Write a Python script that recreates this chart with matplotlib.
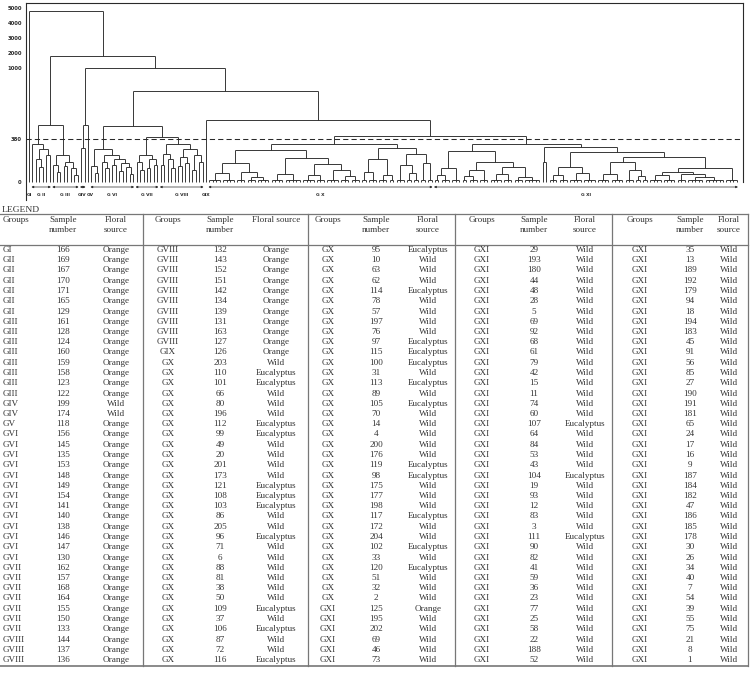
import numpy as np
import matplotlib
matplotlib.use("Agg")
import matplotlib.pyplot as plt
from matplotlib.collections import LineCollection

# ---- dendrogram data ----
GROUP_NAMES = ["GI", "GII", "GIII", "GIV", "GV", "GVI", "GVII", "GVIII", "GIX", "GX", "GXI"]
GROUP_SIZES = [1, 6, 8, 2, 1, 13, 7, 13, 1, 65, 88]
GROUP_TAGS = ["GI", "G II", "G III", "GIV", "GV", "G VI", "G VII", "G VIII", "GIX", "G X", "G XI"]
TICK_VALUES = [0, 380, 1000, 2000, 3000, 4000, 5000]
CUT_LEVEL = 380

# node = [height, child, child, ...]; an int is a run of samples joined at the bottom
G_I = 1
G_II = [340, 1, [290, [200, 1, [130, 1, 1]], [240, 1, 1]]]
G_III = [237, [150, 1, [90, 1, 1]], [177, [140, 1, 1], [120, 1, [60, 1, 1]]]]
G_IV_V = [500, [300, 1, 1], 1]
G_VI = [295, [141, 1, [80, 1, 1]],
        [240, [180, 1, [120, 1, 1]], [200, [150, 1, 1], [170, [100, 1, 1], [130, 1, [70, 1, 1]]]]]]
G_VII = [240, [180, 1, [110, 1, 1]], [200, [120, 1, 1], [150, 1, 1]]]
G_VIII = [338, [250, [150, 1, 1], [200, 1, [120, 1, 1]]],
          [290, [220, [140, 1, 1], [170, 1, 1]], [240, [110, 1, 1], [180, 1, 1]]]]
G_IX = 1
G_X = [336,
       [283,
        [168, [80, 4, 4], [90, 3, [40, 3, 4]]],
        [212, [75, 4, 5], [163, [60, 4, 3], [110, 4, [50, 3, 3]]]]],
       [300,
        [200, [90, 2, 3], [60, 3, 2]],
        [250, [150, 3, [80, 2, 2]], [170, 2, 2]]]]
G_XI = [336,
        [275, [124, [60, 2, 3], 3], [177, [110, [50, 2, 3], 3], [130, [70, 4, 3], [40, 3, 5]]]],
        [309, [180, 1, 1],
         [268, [130, [60, 3, 3], [80, 4, 4]],
          [224, [180, [70, 4, 4], [110, 3, [50, 2, 2]]],
           [124, [90, [60, 4, 4], [70, 3, [40, 5, 6]]], 4]]]]]

TREE = [4800, G_I, [1800, [500, G_II, G_III],
                    [1000, G_IV_V, [800, [490, G_VI, [400, G_VII, G_VIII]],
                                    [550, G_IX, [406, G_X, G_XI]]]]]]

# ---- table data ----
SAMPLES = [
    [166, 169, 167, 170, 171, 165, 129, 161, 128, 124, 160, 159, 158, 123, 122, 199, 174, 118, 156, 145, 135,
     153, 148, 149, 154, 141, 140, 138, 146, 147, 130, 162, 157, 168, 164, 155, 150, 133, 144, 137, 136],
    [132, 143, 152, 151, 142, 134, 139, 131, 163, 127, 126, 203, 110, 101, 66, 80, 196, 112, 99, 49, 20,
     201, 173, 121, 108, 103, 86, 205, 96, 71, 6, 88, 81, 38, 50, 109, 37, 106, 87, 72, 116],
    [95, 10, 63, 62, 114, 78, 57, 197, 76, 97, 115, 100, 31, 113, 89, 105, 70, 14, 4, 200, 176,
     119, 98, 175, 177, 198, 117, 172, 204, 102, 33, 120, 51, 32, 2, 125, 195, 202, 69, 46, 73],
    [29, 193, 180, 44, 48, 28, 5, 69, 92, 68, 61, 79, 42, 15, 11, 74, 60, 107, 64, 84, 53,
     43, 104, 19, 93, 12, 83, 3, 111, 90, 82, 41, 59, 36, 23, 77, 25, 58, 22, 188, 52],
    [35, 13, 189, 192, 179, 94, 18, 194, 183, 45, 91, 56, 85, 27, 190, 191, 181, 65, 24, 17, 16,
     9, 187, 184, 182, 47, 186, 185, 178, 30, 26, 34, 40, 7, 54, 39, 55, 75, 21, 8, 1],
]
# O = Orange, W = Wild, E = Eucalyptus
SOURCE_CODES = [
    "OOOOOOOOOOOOOOOWWOOOOOOOOOOOOOOOOOOOOOOOO",
    "OOOOOOOOOOOWEEWWWEEWWWWEEEWWEWWWWWWEWEWWE",
    "EWWWEWWWWEEEWEWEWWWWWEEWWWEWWEWEWWWOWWWWW",
    "WWWWWWWWWWWWWWWWWEWWWWEWWWWWEWWWWWWWWWWWW",
    "WWWWWWWWWWWWWWWWWWWWWWWWWWWWWWWWWWWWWWWWW",
]
SOURCE_NAMES = {"O": "Orange", "W": "Wild", "E": "Eucalyptus"}

# ---- figure ----
W, H = 751, 675
fig = plt.figure(figsize=(W / 100, H / 100), dpi=100)
ink = "#2a2a2a"

# y scale of the dendrogram (piecewise, as on the original axis)
VALS = [-160, 0, 380, 1000, 5000, 5330]
POS = [-18, 0, 43, 114, 174, 179]


def fwd(v):
    return np.interp(v, VALS, POS)


def inv(p):
    return np.interp(p, POS, VALS)


ax = fig.add_axes([26 / W, 1 - 200 / H, (743 - 26) / W, 197 / H])
ax.set_yscale("function", functions=(fwd, inv))

LOW_H = 22
segs = []
leaf = [0]


def walk(node):
    if isinstance(node, int):
        xs = list(range(leaf[0], leaf[0] + node))
        leaf[0] += node
        if node == 1:
            return xs[0], 0
        for x in xs:
            segs.append([(x, 0), (x, LOW_H)])
        segs.append([(xs[0], LOW_H), (xs[-1], LOW_H)])
        return (xs[0] + xs[-1]) / 2, LOW_H
    h = node[0]
    kids = [walk(c) for c in node[1:]]
    for x, y in kids:
        segs.append([(x, y), (x, h)])
    segs.append([(kids[0][0], h), (kids[-1][0], h)])
    return (kids[0][0] + kids[-1][0]) / 2, h


walk(TREE)
n_leaves = leaf[0]
ax.add_collection(LineCollection(segs, colors=ink, linewidths=0.65))
ax.axhline(CUT_LEVEL, color=ink, lw=0.75, ls=(0, (5, 3)))

sp = (743 - 29) / 3.47
ax.set_xlim(-3 / 3.47, sp)
ax.set_ylim(-160, 5330)
ax.set_xticks([])
ax.set_yticks(TICK_VALUES)
ax.set_yticklabels([str(v) for v in TICK_VALUES])
ax.tick_params(axis="y", length=0, pad=3, labelsize=3.8, labelcolor=ink)
for t in ax.get_yticklabels():
    t.set_fontweight("bold")
ax.spines["bottom"].set_visible(False)
ax.spines["right"].set_bounds(0, 5330)
for s in ("left", "right", "top"):
    ax.spines[s].set_color(ink)
    ax.spines[s].set_linewidth(0.8)

# group arrows and labels under the leaves
tr = ax.get_xaxis_transform()
start = 0
for name, size, tag in zip(GROUP_NAMES, GROUP_SIZES, GROUP_TAGS):
    a, b = start, start + size - 1
    if size > 1:
        ax.annotate("", xy=(a - 0.3, 0.066), xytext=(b + 0.3, 0.066), xycoords=tr, textcoords=tr,
                    arrowprops=dict(arrowstyle="<|-|>", lw=0.5, color=ink, mutation_scale=3,
                                    shrinkA=0, shrinkB=0))
    ha = "center"
    cx = (a + b) / 2
    if name == "GIV":
        ha, cx = "right", b + 0.6
    elif name == "GV":
        ha, cx = "left", a - 0.4
    ax.text(cx, 0.025, tag, transform=tr, ha=ha, va="center", fontsize=3.2,
            fontweight="bold", color=ink)
    start += size

# ---- table ----
tab = fig.add_axes([0, 0, 1, 470 / H])
tab.set_xlim(0, W)
tab.set_ylim(H, 205)
tab.axis("off")

serif = "Liberation Serif"
fs = 6.6
tc = "#333333"
lc = "#777777"
tab.text(2, 209.5, "LEGEND", fontsize=6.8, family=serif, color=tc, va="center", ha="left")

TOP, HEAD_B, BOT, RIGHT = 214, 245, 665.5, 748
tab.plot([0, RIGHT], [TOP, TOP], color=lc, lw=0.9)
tab.plot([0, RIGHT], [HEAD_B, HEAD_B], color=lc, lw=0.9)
tab.plot([0, RIGHT], [BOT, BOT], color=lc, lw=1.2)
for xv in (143, 308, 455, 612, RIGHT):
    tab.plot([xv, xv], [TOP, BOT], color=lc, lw=0.9)

COLS = [(3, 63, 116), (168, 220, 276), (328, 376, 428), (482, 534, 585), (640, 690, 729)]

groups_flat = []
for name, size in zip(GROUP_NAMES, GROUP_SIZES):
    groups_flat += [name] * size
nrows = len(SAMPLES[0])

for c, (gx, nx, fx) in enumerate(COLS):
    ga = "left" if c == 0 else "center"
    tab.text(gx, 220, "Groups", fontsize=fs, family=serif, color=tc, ha=ga, va="center")
    tab.text(nx, 220, "Sample", fontsize=fs, family=serif, color=tc, ha="center", va="center")
    tab.text(nx, 229.5, "number", fontsize=fs, family=serif, color=tc, ha="center", va="center")
    if c == 1:
        tab.text(fx, 220, "Floral source", fontsize=fs, family=serif, color=tc, ha="center", va="center")
    else:
        tab.text(fx, 220, "Floral", fontsize=fs, family=serif, color=tc, ha="center", va="center")
        tab.text(fx, 229.5, "source", fontsize=fs, family=serif, color=tc, ha="center", va="center")
    for r in range(nrows):
        y = 250 + r * 10.25
        g = groups_flat[c * nrows + r]
        tab.text(gx, y, g, fontsize=fs, family=serif, color=tc, ha=ga, va="center")
        tab.text(nx, y, str(SAMPLES[c][r]), fontsize=fs, family=serif, color=tc, ha="center", va="center")
        tab.text(fx, y, SOURCE_NAMES[SOURCE_CODES[c][r]], fontsize=fs, family=serif, color=tc,
                 ha="center", va="center")

fig.savefig("out.png", dpi=100, facecolor="white")
